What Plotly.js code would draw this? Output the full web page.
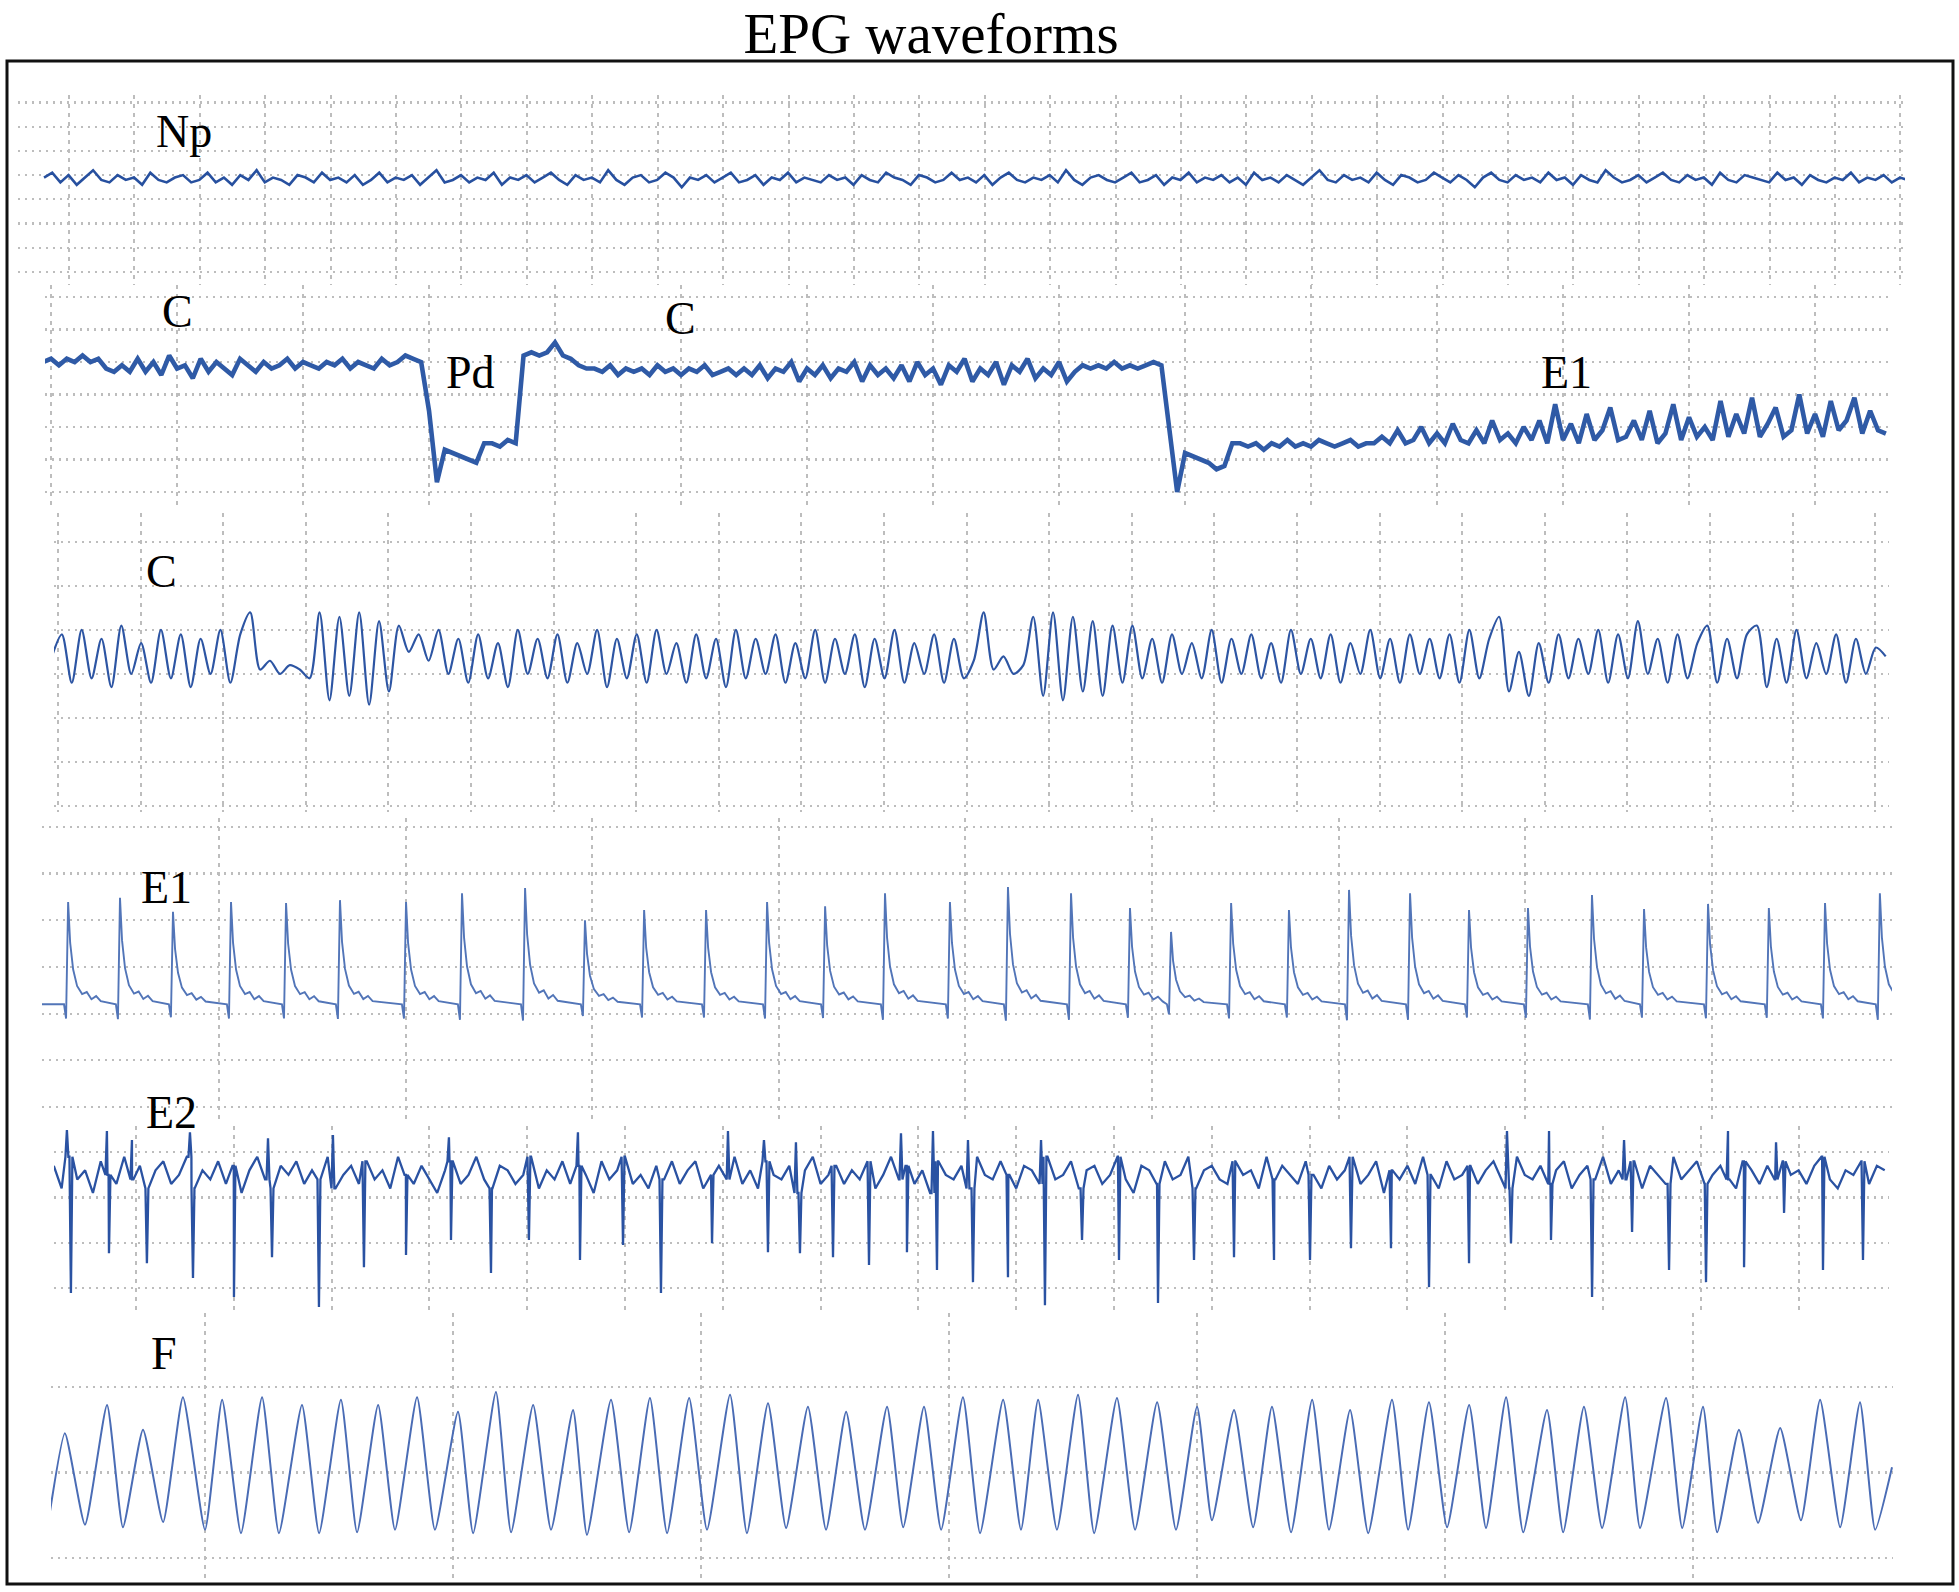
<!DOCTYPE html>
<html>
<head>
<meta charset="utf-8">
<script src="https://cdn.plot.ly/plotly-3.0.1.min.js"></script>
<style>
  html, body { margin: 0; padding: 0; background: #fff; }
  #chart { width: 1959px; height: 1592px; }
</style>
</head>
<body>
<div id="chart"></div>
<script>
// ---- data (time in s, signal in arbitrary units, 10 units = 1 grid division) ----

// Np: non-probing, flat noisy line, sampled every 0.125 s
const npT0 = -0.382, npDt = 0.125;
const npVals = [
  39,41,37,40,36,39,42,38,37,40,38,39,36,41,38,37,39,40,37,38,
  41,37,39,36,40,38,42,37,39,38,36,40,39,37,41,38,39,37,40,36,
  38,41,37,39,38,40,36,39,42,37,38,40,37,39,38,41,36,39,38,40,
  37,39,41,38,36,40,38,39,37,42,38,36,39,40,37,38,41,39,35,39,
  38,40,37,39,41,37,38,40,36,39,38,41,37,39,38,37,40,38,39,36,
  40,38,37,41,39,38,36,40,39,37,38,41,38,39,37,40,36,39,41,38,
  37,39,38,40,37,42,38,36,39,40,38,37,39,41,37,38,40,36,39,38,
  41,37,39,38,40,37,39,36,41,38,39,37,40,38,36,39,42,38,37,40,
  38,39,37,41,38,36,40,39,37,38,41,39,37,40,38,35,39,41,38,37,
  40,38,39,37,41,38,39,36,40,38,37,42,39,37,38,40,37,39,41,38,
  37,40,38,39,36,41,38,37,40,39,38,37,41,38,39,36,40,38,37,39,
  38,41,37,39,38,40,37,39,38
];

// C -> Pd -> C -> E1 transition record, sampled every 1/16 s
const cpeT0 = -0.0625, cpeDt = 0.0625;
const cpeVals = [
  40,41,39,41,40,42,40,41, 38,37,39,37,
  41,37,40,36,42,38,39,35,41,37,40,38,36,41,39,37,40,38,
  39,41,38,40,39,38,40,39,41,38,40,39,38,41,39,40,42,41,
  40,25,3,13,12,11,10,9,15,15,14,16,15,42,43,42,43,46,42,41,39,38,
  38,37,39,36,38,37,38,36,39,37,38,36,38,37,39,36,37,38,36,38,
  36,39,35,38,37,40,34,38,36,39,35,38,37,40,34,39,36,38,35,39,
  34,40,36,38,33,39,37,41,34,38,36,40,33,39,37,41,35,38,36,40,34,37,39,
  38,39,38,40,38,39,38,39,40,39,
  20,0,12,11,10,9,7,8,15,
  15,14,15,13,15,14,16,14,15,14,16,15,14,15,16,14,15,15,
  17,15,19,15,16,20,15,18,15,21,16,15,19,15,22,16,18,15,20,16,22,15,
  27,16,21,15,24,16,19,26,16,17,22,16,25,15,18,27,16,23,17,20,16,28,
  17,24,18,29,17,21,26,17,19,30,18,24,17,28,19,22,29,18,25,19,18
];

// C: pathway waveform, alternating extremes every 0.12 s
const cT0 = -0.073, cDt = 0.12;
const cVals = [
  14,19,8,20,9,18,7,21,10,17, 8,20,9,19,7,18,10,20,8,19,
  24,11,13,10,12,11,9,24,4,23, 5,24,3,22,6,21,15,19,13,20,
  10,18,8,19,9,17,7,20,10,18, 9,19,8,17,10,20,7,18,9,19,
  8,20,10,17,8,19,9,18,7,20, 9,18,10,19,8,17,9,20,8,18,
  10,19,7,18,9,20,8,17,10,19, 8,18,9,13,24,11,14,10,12,23,
  5,24,4,23,6,22,5,21,8,21, 9,18,8,19,10,17,9,20,8,18,
  10,19,9,17,8,20,10,18,9,19, 8,17,10,20,9,18,8,19,10,18,
  9,19,8,20,9,18,23,6,15,5, 17,8,19,9,18,10,20,8,19,9,
  22,10,18,8,19,9,17,21,8,18, 9,19,21,7,18,8,20,9,17,10,
  19,8,18,10,16,14
];

// E1: salivation spikes (time, peak) plus the typical pulse shape of one spike
const e1Start = -0.949;
const e1Baseline = 22;
const e1SpikeT = [
  -0.809,-0.531,-0.247,0.064,0.359,0.648,1.002,1.302,1.640,1.961,2.278,
  2.610,2.937,3.248,3.569,3.917,4.228,4.566,4.882,5.102,5.424,5.734,
  6.056,6.383,6.699,7.015,7.358,7.637,7.980,8.306,8.607,8.901
];
const e1SpikePeak = [
  43.9,44.8,41.8,43.9,43.7,44.3,43.9,45.8,46.9,40.0,42.2,
  42.2,43.9,43.0,45.8,43.9,47.1,45.8,42.6,37.5,43.7,42.2,
  46.5,45.8,42.2,42.6,45.4,42.4,43.5,42.6,43.7,45.8
];
const e1ShapeDt = [-0.022,-0.011,0,0.011,0.027,0.048,0.075,0.1,0.125,0.15,0.175];
const e1ShapeFrac = [0,-0.14,1,0.6,0.34,0.18,0.1,0.12,0.05,0.08,0.03];

// E2: phloem ingestion, noisy band every 0.08 s with sharp spikes
const e2T0 = -0.84, e2Dt = 0.08;
const e2Base = [
  27,22,29,24,26,21,28,25,23,29,24,27,22,26,28,23,25,29,22,26,
  24,28,23,27,21,26,29,24,22,27,25,28,23,26,24,29,22,25,27,23,
  28,24,26,22,29,25,23,27,24,21,26,28,23,25,29,24,22,27,26,23,
  25,29,22,26,24,28,23,27,25,21,28,24,26,29,23,25,22,27,24,28,
  23,26,28,22,25,27,24,29,23,26,22,28,25,24,27,21,26,29,23,25,
  27,23,26,24,28,22,25,29,24,27,23,26,21,28,25,24,27,22,29,25,
  24,28,25,22,27,26,23,29,24,25,28,22,26,27,23,25,29,24,21,27,
  26,23,28,24,25,29,22,26,27,24,23,28,25,26,22,29,24,27,25,23,
  28,25,22,27,24,26,29,23,25,28,21,26,24,27,23,29,25,22,28,24,
  25,27,23,26,28,24,22,29,25,24,27,23,26,28,22,25,27,24,29,23,
  26,24,28,22,27,25,23,29,24,26,28,23,25,27,24,22,28,26,23,27,
  24,28,25,26,23,27,29,24,22,26,25,28,23,27,26
];
const e2DownT = [
  -0.665,-0.276,0.112,0.583,1.002,1.391,1.871,2.331,2.761,3.221,3.630,4.018,
  4.540,4.980,5.368,5.890,6.462,6.789,7.127,7.495,7.883,8.190,8.558,8.916,
  9.294,9.673,10.051,10.450,10.818,11.227,11.636,12.004,12.423,12.832,13.221,
  13.630,14.059,14.468,14.888,15.297,15.675,16.053,16.442,16.851,17.249,17.658
];
const e2DownV = [
  -1.1,7.7,5.5,2.2,-2.0,6.8,-4.2,4.6,7.3,10.6,3.3,10.6,
  6.2,9.5,-1.1,9.9,7.9,7.7,6.8,5.1,7.9,4.0,1.3,2.4,
  -3.8,10.6,6.2,-3.3,6.2,6.8,6.2,6.2,8.8,8.8,0.2,
  5.5,9.9,10.6,-2.0,12.4,4.0,1.3,4.6,16.6,4.0,6.2
];
const e2UpT = [
  -0.706,-0.297,-0.041,0.552,1.350,2.014,3.200,4.519,6.053,6.421,
  6.748,7.822,8.149,8.507,9.254,14.018,14.448,15.215,16.278,16.769
];
const e2UpV = [
  34.9,34.7,32.7,34.4,33.1,33.8,33.3,34.4,34.7,32.7,
  32.2,34.2,34.7,32.7,32.7,34.7,34.7,32.7,34.7,32.2
];

// F: xylem ingestion, alternating troughs and peaks
const fT = [
  -0.629,-0.565,-0.484,-0.395,-0.331,-0.250,-0.169,-0.089,0.000,0.069,
  0.145,0.230,0.298,0.391,0.460,0.548,0.613,0.698,0.766,0.855,
  0.927,1.020,1.081,1.173,1.234,1.323,1.395,1.484,1.540,1.637,
  1.710,1.794,1.863,1.952,2.024,2.117,2.185,2.270,2.343,2.431,
  2.504,2.585,2.661,2.750,2.815,2.899,2.968,3.056,3.125,3.218,
  3.290,3.359,3.435,3.520,3.585,3.677,3.750,3.839,3.915,4.000,
  4.060,4.149,4.226,4.302,4.379,4.464,4.532,4.617,4.690,4.786,
  4.851,4.935,5.008,5.097,5.165,5.246,5.315,5.411,5.476,5.560,
  5.633,5.726,5.786,5.891,5.956,6.040,6.097,6.185,6.262,6.351,
  6.435,6.512,6.593,6.673,6.734,6.802
];
const fV = [
  4.7,14.6,3.9,17.9,3.6,15.0,4.2,18.8,3.3,18.5,
  2.9,18.8,2.9,17.9,2.9,18.5,3.0,17.9,3.3,18.8,
  3.3,17.1,2.9,19.4,3.0,17.9,3.3,17.3,2.7,18.5,
  3.0,18.7,2.9,18.7,3.3,19.1,2.9,18.1,3.5,17.7,
  3.3,17.1,3.3,17.7,3.6,17.7,3.3,18.8,2.9,18.5,
  3.3,18.5,3.3,19.1,2.9,18.7,3.3,18.2,3.3,17.7,
  4.4,17.3,3.6,17.7,3.0,18.5,3.3,17.3,2.9,18.5,
  3.3,18.2,3.6,17.9,3.5,18.8,3.0,17.3,3.0,17.7,
  3.5,18.8,3.5,18.7,3.5,17.7,3.0,15.0,4.1,15.2,
  4.4,18.5,3.6,18.2,3.3,10.6
];

const waveLabels = ['Np', 'C', 'Pd', 'C', 'E1', 'C', 'E1', 'E2', 'F'];

// ---- build the series ----
const W = 1959, H = 1592;
const gridColor = '#bdbdbd';
const serif = "'Liberation Serif', 'Times New Roman', 'DejaVu Serif', serif";

function sampled(t0, dt, vals) {
  return vals.map((v, i) => t0 + i * dt);
}

const e1X = [e1Start], e1Y = [e1Baseline];
e1SpikeT.forEach((t, k) => {
  e1ShapeDt.forEach((d, j) => {
    e1X.push(t + d);
    e1Y.push(e1Baseline + e1ShapeFrac[j] * (e1SpikePeak[k] - e1Baseline));
  });
});

const e2Pts = e2Base.map((v, i) => [e2T0 + i * e2Dt, v]);
function addSpikes(times, vals) {
  times.forEach((t, k) => {
    const b = e2Base[Math.round((t - e2T0) / e2Dt)];
    e2Pts.push([t - 0.015, b], [t, vals[k]], [t + 0.015, b]);
  });
}
addSpikes(e2DownT, e2DownV);
addSpikes(e2UpT, e2UpV);
e2Pts.sort((a, b) => a[0] - b[0]);

function line(x, y, n, color, width, smooth) {
  const ln = {color: color, width: width};
  if (smooth) { ln.shape = 'spline'; ln.smoothing = smooth; }
  return {
    x: x, y: y, type: 'scatter', mode: 'lines',
    xaxis: 'x' + (n === 1 ? '' : n), yaxis: 'y' + (n === 1 ? '' : n),
    line: ln, hoverinfo: 'skip', showlegend: false
  };
}

const traces = [
  line(sampled(npT0, npDt, npVals), npVals, 1, '#27509f', 2.6),
  line(sampled(cpeT0, cpeDt, cpeVals), cpeVals, 2, '#2f5aa6', 4.6),
  line(sampled(cT0, cDt, cVals), cVals, 3, '#2d55a3', 2.2, 0.8),
  line(e1X, e1Y, 4, '#5275b8', 1.9),
  line(e2Pts.map(p => p[0]), e2Pts.map(p => p[1]), 5, '#2a52a2', 2.3),
  line(fT, fV, 6, '#4a6cb5', 2, 0.5)
];

// ---- layout: one subplot per screenshot strip, pixel boxes of the original figure ----
// [left, right, top, bottom] in px, x range, y range
const panels = [
  {box: [18, 1905, 95, 285],   xr: [-0.780, 28.07],  yr: [-5.4, 73.1]},
  {box: [45, 1890, 285, 505],  xr: [-0.048, 14.595], yr: [-4.0, 63.7]},
  {box: [54, 1889, 513, 812],  xr: [-0.048, 22.167], yr: [-21.4, 46.6]},
  {box: [42, 1892, 818, 1124], xr: [-0.949, 8.966],  yr: [-3.64, 61.9]},
  {box: [54, 1889, 1126, 1312], xr: [-0.838, 17.924], yr: [-5.3, 35.8]},
  {box: [51, 1893, 1313, 1578], xr: [-0.621, 6.806],  yr: [-2.34, 28.65]}
];

const layout = {
  width: W, height: H,
  margin: {l: 0, r: 0, t: 0, b: 0},
  paper_bgcolor: '#ffffff', plot_bgcolor: 'rgba(0,0,0,0)',
  showlegend: false,
  title: {
    text: 'EPG waveforms', x: 931 / W, xanchor: 'center',
    y: 1 - 33 / H, yanchor: 'middle', yref: 'container',
    font: {family: serif, size: 57, color: '#000'}
  },
  shapes: [{
    type: 'rect', xref: 'paper', yref: 'paper',
    x0: 7 / W, x1: 1953 / W, y0: 1 - 1584 / H, y1: 1 - 61 / H,
    line: {color: '#111', width: 3}, fillcolor: 'rgba(0,0,0,0)'
  }],
  annotations: []
};

panels.forEach((p, i) => {
  const n = i + 1;
  const xk = 'xaxis' + (n === 1 ? '' : n), yk = 'yaxis' + (n === 1 ? '' : n);
  layout[xk] = {
    domain: [p.box[0] / W, p.box[1] / W], range: p.xr,
    anchor: 'y' + (n === 1 ? '' : n),
    tick0: 0, dtick: 1, showgrid: true, gridcolor: gridColor, gridwidth: 2,
    griddash: '4px,5px', zeroline: false, showticklabels: false, ticks: '',
    showline: false, fixedrange: true
  };
  layout[yk] = {
    domain: [1 - p.box[3] / H, 1 - p.box[2] / H], range: p.yr,
    anchor: 'x' + (n === 1 ? '' : n),
    tick0: 0, dtick: 10, showgrid: true, gridcolor: gridColor, gridwidth: 2.2,
    griddash: '2px,5px', zeroline: false, showticklabels: false, ticks: '',
    showline: false, fixedrange: true
  };
});

// label centres in px
const labelPos = [[184, 132], [177, 312], [470, 372], [680, 318], [1566, 372],
                  [161, 571], [166, 887], [171, 1112], [164, 1353]];
waveLabels.forEach((txt, i) => {
  layout.annotations.push({
    text: txt, xref: 'paper', yref: 'paper',
    x: labelPos[i][0] / W, y: 1 - labelPos[i][1] / H,
    xanchor: 'center', yanchor: 'middle', showarrow: false,
    font: {family: serif, size: 46, color: '#000'}
  });
});

Plotly.newPlot('chart', traces, layout, {displayModeBar: false, staticPlot: true});
</script>
</body>
</html>
